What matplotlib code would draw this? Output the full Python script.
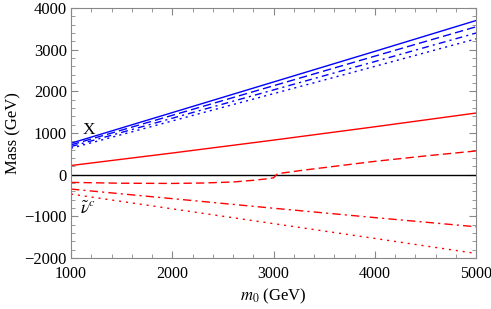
import matplotlib.pyplot as plt

plt.rcParams['font.family'] = ['Liberation Serif', 'DejaVu Serif']
plt.rcParams['mathtext.fontset'] = 'stix'

# m0 grid (GeV)
m0 = [1000, 2000, 3000, 4000, 5000]

# X states (blue)
x1 = [755, 1490, 2225, 2960, 3700]
x2 = [715, 1425, 2135, 2845, 3550]
x3 = [675, 1355, 2035, 2715, 3400]
x4 = [635, 1290, 1945, 2600, 3260]

# red lines
r_solid = [220, 520, 830, 1150, 1480]
r_dashdot = [-345, -575, -805, -1030, -1250]
r_dot = [-465, -820, -1175, -1530, -1890]

# dashed line with kink near 3000
m0_d = [1000, 1500, 2000, 2300, 2600, 2800, 2950, 3000, 3040, 3300, 3700, 4000, 4500, 5000]
r_dash = [-185, -205, -210, -200, -175, -135, -95, -75, 25, 110, 230, 320, 450, 570]

fig = plt.figure(figsize=(4.91, 3.09), dpi=100)
ax = fig.add_axes([0.1446, 0.165, 0.825, 0.809])

ax.axhline(0, color='black', lw=1.0)

ax.plot(m0, x1, color='blue', lw=1.0)
ax.plot(m0, x2, color='blue', lw=1.0, dashes=(6, 3))
ax.plot(m0, x3, color='blue', lw=1.0, dashes=(5, 3, 1.5, 3))
ax.plot(m0, x4, color='blue', lw=1.0, dashes=(1.5, 3))

ax.plot(m0, r_solid, color='red', lw=1.0)
ax.plot(m0_d, r_dash, color='red', lw=1.0, dashes=(6, 3))
ax.plot(m0, r_dashdot, color='red', lw=1.0, dashes=(6, 3, 1.5, 3))
ax.plot(m0, r_dot, color='red', lw=1.0, dashes=(1.5, 3.5))

ax.text(1180, 1080, 'X', fontsize=12.5, ha='center', va='center')
ax.text(1170, -830, r'$\tilde{\nu}^c$', fontsize=12.5, ha='center', va='center')

ax.set_xlim(1000, 5000)
ax.set_ylim(-2000, 4000)
ax.set_xticks([1000, 2000, 3000, 4000, 5000])
ax.set_yticks([-2000, -1000, 0, 1000, 2000, 3000, 4000])
ax.set_xticks(range(1000, 5001, 200), minor=True)
ax.set_yticks(range(-2000, 4001, 200), minor=True)
ax.set_yticklabels(['\u22122000', '\u22121000', '0', '1000', '2000', '3000', '4000'])
ax.tick_params(which='both', direction='in', top=True, right=True,
               labelsize=12, color='#888888')
ax.tick_params(axis='x', labelsize=11.5, pad=6)
ax.tick_params(which='major', length=5)
ax.tick_params(which='minor', length=3)
ax.tick_params(axis='y', pad=3)
for s in ax.spines.values():
    s.set_color('#888888')

ax.set_xlabel('$m_0$ (GeV)', fontsize=12, labelpad=3)
ax.set_ylabel('Mass (GeV)', fontsize=12, labelpad=2)

fig.savefig('out.png', dpi=100)
